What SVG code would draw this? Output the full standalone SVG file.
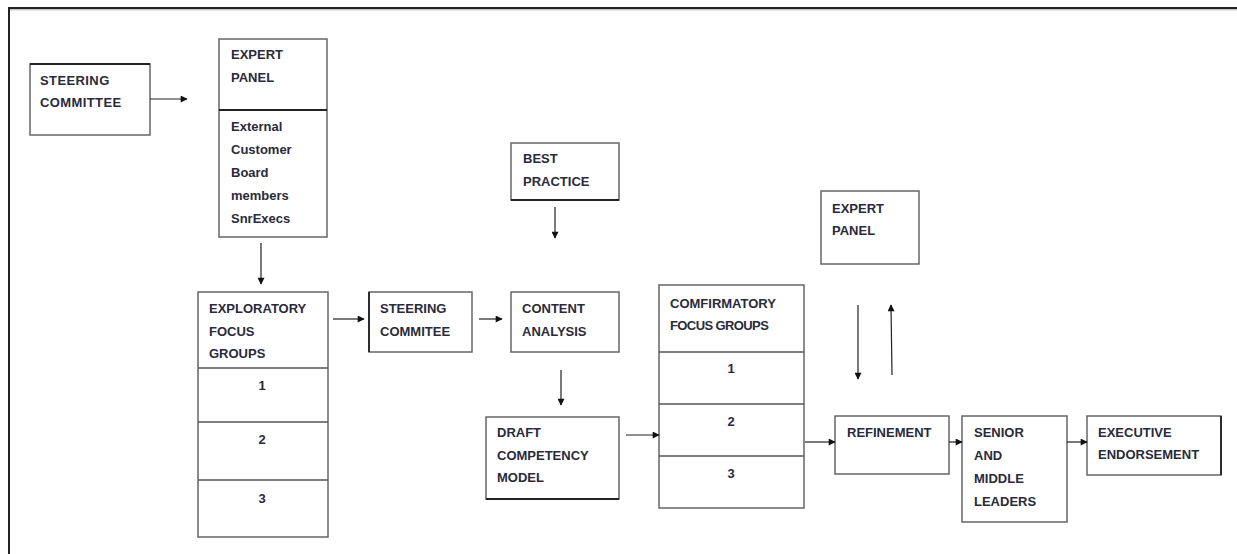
<svg xmlns="http://www.w3.org/2000/svg" width="1237" height="554" viewBox="0 0 1237 554">
<defs>
<style>
.bx{fill:#fff;stroke:#666;stroke-width:1.5}
.dk{stroke:#222;stroke-width:1.8;fill:none}
.dv{stroke:#555;stroke-width:1.5}
.t{font-family:"Liberation Sans",Arial,sans-serif;font-size:13px;font-weight:bold;fill:#2a2a3a}
.n{font-family:"Liberation Sans",Arial,sans-serif;font-size:13px;font-weight:bold;fill:#2a2a3a;text-anchor:middle}
.c{stroke:#222;stroke-width:1.2;fill:none;marker-end:url(#ah)}
</style>
<marker id="ah" viewBox="0 0 10 10" refX="9" refY="5" markerWidth="8" markerHeight="7" markerUnits="userSpaceOnUse" orient="auto">
<path d="M0,0 L10,5 L0,10 z" fill="#111"/>
</marker>
</defs>
<rect width="1237" height="554" fill="#fff"/>
<path d="M9,554 V8 H1237" fill="none" stroke="#222" stroke-width="2"/>
<line x1="10" y1="9.8" x2="1237" y2="9.8" stroke="#aaa" stroke-width="1"/>

<g id="steering-committee">
<rect class="bx" x="30" y="64" width="120" height="71"/>
<line class="dk" x1="30" y1="64" x2="150" y2="64"/>
<text class="t" x="40" y="85" letter-spacing="0.4">STEERING</text>
<text class="t" x="40" y="107" letter-spacing="0.4">COMMITTEE</text>
</g>

<g id="expert-panel-1">
<rect class="bx" x="219" y="39" width="108" height="198"/>
<line class="dk" x1="219" y1="110" x2="327" y2="110"/>
<text class="t" x="231" y="59">EXPERT</text>
<text class="t" x="231" y="82">PANEL</text>
<text class="t" x="231" y="131">External</text>
<text class="t" x="231" y="154">Customer</text>
<text class="t" x="231" y="177">Board</text>
<text class="t" x="231" y="200">members</text>
<text class="t" x="231" y="223">SnrExecs</text>
</g>

<g id="exploratory-focus-groups">
<rect class="bx" x="198" y="292" width="130" height="245"/>
<line class="dv" x1="198" y1="368" x2="328" y2="368"/>
<line class="dv" x1="198" y1="422" x2="328" y2="422"/>
<line class="dv" x1="198" y1="480" x2="328" y2="480"/>
<text class="t" x="209" y="313">EXPLORATORY</text>
<text class="t" x="209" y="336">FOCUS</text>
<text class="t" x="209" y="358">GROUPS</text>
<text class="n" x="262" y="390">1</text>
<text class="n" x="262" y="444">2</text>
<text class="n" x="262" y="503">3</text>
</g>

<g id="steering-commitee">
<rect class="bx" x="369" y="292" width="103" height="60"/>
<line class="dk" x1="369" y1="292" x2="369" y2="352"/>
<text class="t" x="380" y="313">STEERING</text>
<text class="t" x="380" y="336">COMMITEE</text>
</g>

<g id="best-practice">
<rect class="bx" x="511" y="143" width="108" height="57"/>
<line class="dk" x1="511" y1="200" x2="619" y2="200"/>
<text class="t" x="523" y="163">BEST</text>
<text class="t" x="523" y="186">PRACTICE</text>
</g>

<g id="content-analysis">
<rect class="bx" x="511" y="292" width="108" height="60"/>
<text class="t" x="522" y="313">CONTENT</text>
<text class="t" x="522" y="336">ANALYSIS</text>
</g>

<g id="draft-competency-model">
<rect class="bx" x="486" y="417" width="133" height="82"/>
<line class="dk" x1="486" y1="499" x2="619" y2="499"/>
<text class="t" x="497" y="437">DRAFT</text>
<text class="t" x="497" y="460">COMPETENCY</text>
<text class="t" x="497" y="482">MODEL</text>
</g>

<g id="confirmatory-focus-groups">
<rect class="bx" x="659" y="285" width="145" height="223"/>
<line class="dv" x1="659" y1="352" x2="804" y2="352"/>
<line class="dv" x1="659" y1="404" x2="804" y2="404"/>
<line class="dv" x1="659" y1="456" x2="804" y2="456"/>
<text class="t" x="670" y="308">COMFIRMATORY</text>
<text class="t" x="670" y="330" letter-spacing="-0.6">FOCUS GROUPS</text>
<text class="n" x="731" y="373">1</text>
<text class="n" x="731" y="426">2</text>
<text class="n" x="731" y="478">3</text>
</g>

<g id="expert-panel-2">
<rect class="bx" x="821" y="191" width="98" height="73"/>
<text class="t" x="832" y="213">EXPERT</text>
<text class="t" x="832" y="235">PANEL</text>
</g>

<g id="refinement">
<rect class="bx" x="835" y="416" width="114" height="58"/>
<text class="t" x="847" y="437">REFINEMENT</text>
</g>

<g id="senior-and-middle-leaders">
<rect class="bx" x="962" y="416" width="105" height="106"/>
<text class="t" x="974" y="437">SENIOR</text>
<text class="t" x="974" y="460">AND</text>
<text class="t" x="974" y="483">MIDDLE</text>
<text class="t" x="974" y="506">LEADERS</text>
</g>

<g id="executive-endorsement">
<rect class="bx" x="1087" y="416" width="134" height="59"/>
<line class="dk" x1="1221" y1="416" x2="1221" y2="475"/>
<text class="t" x="1098" y="437">EXECUTIVE</text>
<text class="t" x="1098" y="459">ENDORSEMENT</text>
</g>

<g id="connectors">
<line class="c" x1="150" y1="99" x2="187" y2="99"/>
<line class="c" x1="261" y1="243" x2="261" y2="284"/>
<line class="c" x1="333" y1="319" x2="364" y2="319"/>
<line class="c" x1="479" y1="319" x2="502" y2="319"/>
<line class="c" x1="555" y1="207" x2="555" y2="238"/>
<line class="c" x1="561" y1="370" x2="561" y2="405"/>
<line class="c" x1="626" y1="435" x2="659" y2="435"/>
<line class="c" x1="805" y1="442" x2="835" y2="442"/>
<line class="c" x1="858" y1="305" x2="858" y2="379"/>
<line class="c" x1="892" y1="375" x2="891" y2="305"/>
<line class="c" x1="949" y1="442" x2="962" y2="442"/>
<line class="c" x1="1067" y1="442" x2="1087" y2="442"/>
</g>
</svg>
